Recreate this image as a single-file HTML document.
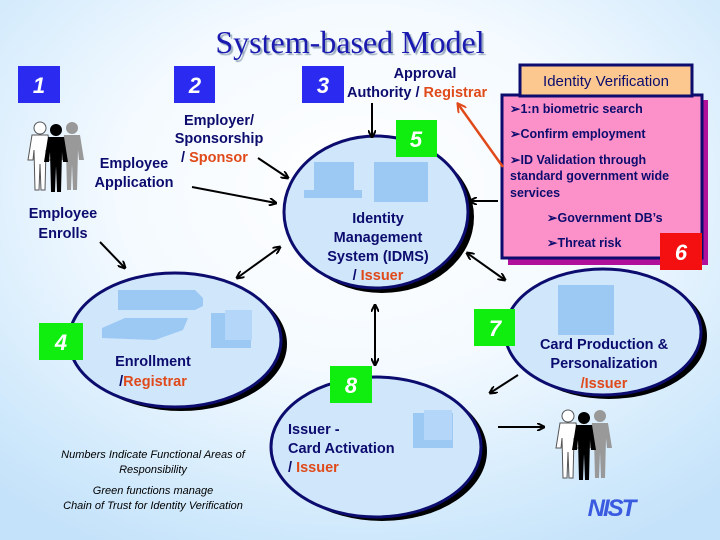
<!DOCTYPE html>
<html><head><meta charset="utf-8"><style>
html,body{margin:0;padding:0}
body{width:720px;height:540px;overflow:hidden;background:radial-gradient(ellipse 75% 75% at 50% 35%,#ffffff 0%,#f4faff 45%,#d4ebfc 80%,#c4e2fa 100%)}
svg{display:block}
.t{font-family:"Liberation Sans",sans-serif;font-weight:bold;fill:#0c0c6e}
.r{fill:#e04a1a}
.n{font-family:"Liberation Sans",sans-serif;font-weight:bold;font-style:italic;fill:#fff;font-size:22px}
</style></head><body>
<svg width="720" height="540" viewBox="0 0 720 540">
<defs>
<marker id="a" markerWidth="8" markerHeight="8" refX="7" refY="4" orient="auto" markerUnits="userSpaceOnUse"><path d="M0,0 L8,4 L0,8" fill="none" stroke="#000" stroke-width="2"/></marker>
<marker id="b" markerWidth="8" markerHeight="8" refX="1" refY="4" orient="auto" markerUnits="userSpaceOnUse"><path d="M8,0 L0,4 L8,8" fill="none" stroke="#000" stroke-width="2"/></marker>
<marker id="o" markerWidth="10" markerHeight="10" refX="8" refY="5" orient="auto" markerUnits="userSpaceOnUse"><path d="M0,0 L9,5 L0,10" fill="none" stroke="#e04a1a" stroke-width="2"/></marker>
<g id="fig"><circle cx="0" cy="0" r="6"/><path d="M-8,7 H8 L12,32 H7 L6,22 L5,62 H1 L0,36 L-1,62 H-5 L-6,22 L-7,32 H-12 Z"/></g>
<g id="ppl">
<use href="#fig" fill="#fff" stroke="#555" stroke-width="1" transform="translate(-16,0)"/>
<use href="#fig" fill="#999" transform="translate(16,0)"/>
<use href="#fig" fill="#000" transform="translate(0,2)"/>
</g>
</defs>
<text x="350" y="53" text-anchor="middle" font-family="Liberation Serif,serif" font-size="32" fill="#1a1ab0" style="text-shadow:2px 2px 1px #9ab">System-based Model</text>

<rect x="18" y="66" width="42" height="37" fill="#2a2af0"/><text class="n" x="39" y="93" text-anchor="middle">1</text>
<rect x="174" y="66" width="41" height="37" fill="#2a2af0"/><text class="n" x="195" y="93" text-anchor="middle">2</text>
<rect x="302" y="66" width="42" height="37" fill="#2a2af0"/><text class="n" x="323" y="93" text-anchor="middle">3</text>

<g stroke="#0c0c6e" stroke-width="3" fill="#cfe6fb">
<ellipse cx="382" cy="217" rx="92" ry="76" fill="#000" stroke="none"/>
<ellipse cx="376" cy="212" rx="92" ry="76"/>
<ellipse cx="181" cy="344" rx="106" ry="67" fill="#000" stroke="none"/>
<ellipse cx="175" cy="340" rx="106" ry="67"/>
<ellipse cx="609" cy="336" rx="98" ry="63" fill="#000" stroke="none"/>
<ellipse cx="603" cy="332" rx="98" ry="63"/>
<ellipse cx="382" cy="451" rx="105" ry="70" fill="#000" stroke="none"/>
<ellipse cx="376" cy="447" rx="105" ry="70"/>
</g>
<g fill="#9cc8f4">
<rect x="314" y="162" width="40" height="28"/><rect x="304" y="190" width="58" height="8"/>
<rect x="374" y="162" width="54" height="40"/>
<path d="M118,290 H195 L203,298 V306 L195,310 H118 Z"/>
<path d="M102,328 L125,318 H188 L183,330 L155,340 L102,338 Z"/>
<rect x="211" y="313" width="40" height="35"/><rect x="225" y="310" width="27" height="30" fill="#b4d6f8"/>
<rect x="558" y="285" width="56" height="50"/>
<rect x="413" y="413" width="40" height="35"/><rect x="424" y="410" width="28" height="30" fill="#b4d6f8"/>
</g>

<rect x="396" y="120" width="41" height="37" fill="#10ee10"/><text class="n" x="416" y="147" text-anchor="middle">5</text>
<rect x="39" y="323" width="44" height="37" fill="#10ee10"/><text class="n" x="61" y="350" text-anchor="middle">4</text>
<rect x="474" y="309" width="41" height="37" fill="#10ee10"/><text class="n" x="495" y="336" text-anchor="middle">7</text>
<rect x="330" y="366" width="42" height="37" fill="#10ee10"/><text class="n" x="351" y="393" text-anchor="middle">8</text>

<rect x="508" y="100" width="200" height="165" fill="#b0109a"/>
<rect x="502" y="95" width="200" height="163" fill="#fc90c8" stroke="#0c0c6e" stroke-width="3"/>
<rect x="520" y="65" width="172" height="31" fill="#fcc890" stroke="#0c0c6e" stroke-width="3"/>
<text class="t" x="606" y="86" font-size="15" text-anchor="middle" style="font-weight:normal">Identity Verification</text>
<g class="t" font-size="12.5">
<text x="510" y="113">➢1:n biometric search</text>
<text x="510" y="138">➢Confirm employment</text>
<text x="510" y="164">➢ID Validation through</text>
<text x="510" y="180">standard government wide</text>
<text x="510" y="197">services</text>
<text x="547" y="222">➢Government DB’s</text>
<text x="547" y="247">➢Threat risk</text>
</g>
<rect x="660" y="233" width="42" height="37" fill="#f41010"/><text class="n" x="681" y="260" text-anchor="middle">6</text>

<g class="t" font-size="14.5">
<text x="219" y="125" text-anchor="middle">Employer/</text>
<text x="219" y="143" text-anchor="middle">Sponsorship</text>
<text x="181" y="162"><tspan>/ </tspan><tspan class="r">Sponsor</tspan></text>
<text x="134" y="168" text-anchor="middle">Employee</text>
<text x="134" y="187" text-anchor="middle">Application</text>
<text x="63" y="218" text-anchor="middle">Employee</text>
<text x="63" y="238" text-anchor="middle">Enrolls</text>
<text x="425" y="78" text-anchor="middle">Approval</text>
<text x="347" y="97">Authority / <tspan class="r">Registrar</tspan></text>
<text x="378" y="223" text-anchor="middle">Identity</text>
<text x="378" y="242" text-anchor="middle">Management</text>
<text x="378" y="261" text-anchor="middle">System (IDMS)</text>
<text x="378" y="280" text-anchor="middle">/ <tspan class="r">Issuer</tspan></text>
<text x="153" y="366" text-anchor="middle">Enrollment</text>
<text x="153" y="386" text-anchor="middle">/<tspan class="r">Registrar</tspan></text>
<text x="604" y="349" text-anchor="middle">Card Production &amp;</text>
<text x="604" y="368" text-anchor="middle">Personalization</text>
<text x="604" y="388" text-anchor="middle"><tspan class="r">/Issuer</tspan></text>
<text x="288" y="434">Issuer -</text>
<text x="288" y="453">Card Activation</text>
<text x="288" y="472">/ <tspan class="r">Issuer</tspan></text>
</g>
<g font-family="Liberation Sans,sans-serif" font-style="italic" font-size="11" fill="#000" text-anchor="middle">
<text x="153" y="458">Numbers Indicate Functional Areas of</text>
<text x="153" y="473">Responsibility</text>
<text x="153" y="494">Green functions manage</text>
<text x="153" y="509">Chain of Trust for Identity Verification</text>
</g>

<g stroke="#000" stroke-width="2" fill="none">
<line x1="258" y1="158" x2="288" y2="178" marker-end="url(#a)"/>
<line x1="192" y1="187" x2="276" y2="203" marker-end="url(#a)"/>
<line x1="100" y1="242" x2="125" y2="268" marker-end="url(#a)"/>
<line x1="237" y1="278" x2="280" y2="247" marker-start="url(#b)" marker-end="url(#a)"/>
<line x1="372" y1="103" x2="372" y2="137" marker-end="url(#a)"/>
<line x1="498" y1="201" x2="470" y2="201" marker-end="url(#a)"/>
<line x1="467" y1="253" x2="505" y2="280" marker-start="url(#b)" marker-end="url(#a)"/>
<line x1="375" y1="305" x2="375" y2="365" marker-start="url(#b)" marker-end="url(#a)"/>
<line x1="518" y1="375" x2="490" y2="393" marker-end="url(#a)"/>
<line x1="498" y1="427" x2="544" y2="427" marker-end="url(#a)"/>
</g>
<line x1="503" y1="167" x2="458" y2="104" stroke="#e04a1a" stroke-width="2.5" marker-end="url(#o)"/>

<use href="#ppl" transform="translate(56,128)"/>
<use href="#ppl" transform="translate(584,416)"/>
<text x="611" y="516" text-anchor="middle" font-family="Liberation Sans,sans-serif" font-weight="bold" font-style="italic" font-size="24" fill="#3a5ae0" letter-spacing="-2">NIST</text>
</svg>
</body></html>
